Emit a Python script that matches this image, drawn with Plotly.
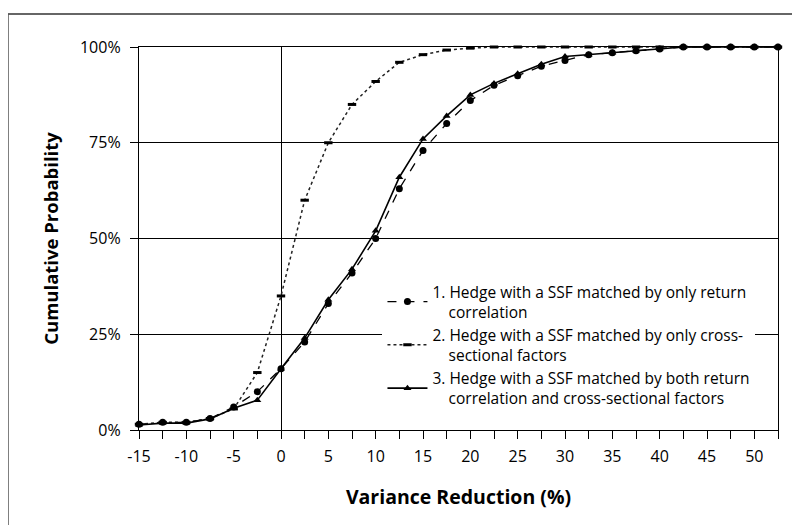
import plotly.graph_objects as go

x_vals = [-15, -12.5, -10, -7.5, -5, -2.5, 0, 2.5, 5, 7.5, 10, 12.5, 15, 17.5, 20,
          22.5, 25, 27.5, 30, 32.5, 35, 37.5, 40, 42.5, 45, 47.5, 50, 52.5]

s1_return_corr = [1.5, 2, 2, 3, 6, 10, 16, 23, 33, 41, 50, 63, 73, 80, 86,
                  90, 92.5, 95, 96.5, 98, 98.5, 99, 99.5, 100, 100, 100, 100, 100]
s2_cross_sect = [1.5, 2, 2, 3, 5.5, 15, 35, 60, 75, 85, 91, 96, 98, 99.2, 99.7,
                 100, 100, 100, 100, 100, 100, 100, 100, 100, 100, 100, 100, 100]
s3_both = [1.3, 1.8, 1.8, 2.9, 5.7, 7.8, 16, 24, 34, 42, 52, 66, 76, 82, 87.5,
           90.5, 93, 95.5, 97.5, 98, 98.5, 99, 99.5, 100, 100, 100, 100, 100]

IND = "&nbsp;" * 4
names = [
    "1. Hedge with a SSF matched by only return<br>" + IND + "correlation",
    "2. Hedge with a SSF matched by only cross-<br>" + IND + "sectional factors",
    "3. Hedge with a SSF matched by both return<br>" + IND + "correlation and cross-sectional factors",
]

x_tickvals = [-15, -10, -5, 0, 5, 10, 15, 20, 25, 30, 35, 40, 45, 50]
x_ticktext = ["-15", "-10", "-5", "0", "5", "10", "15", "20", "25", "30", "35", "40", "45", "50"]
y_tickvals = [0, 25, 50, 75, 100]
y_ticktext = ["0%", "25%", "50%", "75%", "100%"]

FONT = "'Open Sans', Lato, sans-serif"

fig = go.Figure()
fig.add_trace(go.Scatter(
    x=x_vals, y=s1_return_corr, name=names[0], mode="lines+markers",
    line=dict(color="black", width=1.3, dash="dash"),
    marker=dict(symbol="circle", size=7, color="black"), cliponaxis=False))
fig.add_trace(go.Scatter(
    x=x_vals, y=s2_cross_sect, name=names[1], mode="lines+markers",
    line=dict(color="#222", width=1.5, dash="dot"),
    marker=dict(symbol="line-ew", size=6, color="black",
                line=dict(color="black", width=3)), cliponaxis=False))
fig.add_trace(go.Scatter(
    x=x_vals, y=s3_both, name=names[2], mode="lines+markers",
    line=dict(color="black", width=1.6),
    marker=dict(symbol="triangle-up", size=7, color="black"), cliponaxis=False))

# outer frame lines (page border of the original)
fig.add_shape(type="line", xref="paper", yref="paper", x0=-0.205, x1=1.04,
              y0=1.086, y1=1.086, line=dict(color="#333", width=1.5))
fig.add_shape(type="line", xref="paper", yref="paper", x0=-0.205, x1=-0.205,
              y0=-0.25, y1=1.086, line=dict(color="#555", width=1.5))

fig.update_layout(
    width=792, height=517,
    margin=dict(l=131, r=22, t=39, b=95),
    paper_bgcolor="white", plot_bgcolor="white",
    font=dict(family=FONT, color="black", size=16),
    showlegend=True,
    legend=dict(x=0.381, y=0.405, xanchor="left", yanchor="top",
                bgcolor="white", font=dict(size=15.5, family=FONT),
                tracegroupgap=0, itemwidth=40),
)
fig.update_xaxes(
    range=[-15, 52.5], tickmode="array", tickvals=x_tickvals, ticktext=x_ticktext,
    showgrid=False, zeroline=True, zerolinecolor="black", zerolinewidth=1.3,
    showline=True, linecolor="black", linewidth=1.3, mirror=True,
    ticks="outside", ticklen=8, tickcolor="black", ticklabelstandoff=4,
    minor=dict(dtick=2.5, ticks="outside", ticklen=8, tickcolor="black", showgrid=False),
    title=dict(text="<b>Variance Reduction (%)</b>", font=dict(size=19.5), standoff=24),
    tickfont=dict(size=16),
)
fig.update_yaxes(
    range=[0, 100], tickmode="array", tickvals=y_tickvals, ticktext=y_ticktext,
    showgrid=True, gridcolor="black", gridwidth=1, zeroline=False,
    showline=True, linecolor="black", linewidth=1.3, mirror=True,
    ticks="outside", ticklen=8, tickcolor="black", ticklabelstandoff=6,
    title=dict(text="<b>Cumulative Probability</b>", font=dict(size=18.5), standoff=16),
    tickfont=dict(size=16),
)

fig.write_html("out.html")
